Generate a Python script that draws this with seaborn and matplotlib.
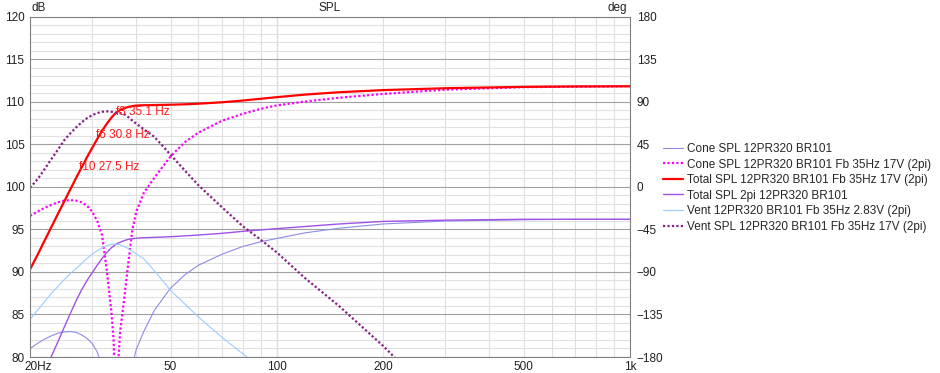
import numpy as np
import pandas as pd
import matplotlib
matplotlib.use("Agg")
import matplotlib.pyplot as plt
import matplotlib.transforms as mtransforms
import seaborn as sns

# frequency points (Hz) shared by every curve
freq = [20, 21, 22, 23, 24, 25, 26, 27, 28, 29, 30, 31, 32, 33, 34, 34.5, 35, 35.5,
        36, 37, 38, 39, 40, 42, 45, 50, 55, 60, 70, 80, 90, 100, 120, 150, 200, 300,
        500, 700, 1000]

nan = np.nan
cone_283 = [81.0, 81.6, 82.1, 82.5, 82.8, 82.95, 83.0, 82.9, 82.6, 82.2, 81.6, 80.6, 78.9,
            75.5, 70.0, 66.0, 58.0, 63.0, 67.0, 72.0, 76.0, 79.2, 80.9, 83.0, 85.5, 88.1,
            89.7, 90.8, 92.1, 93.0, 93.55, 93.95, 94.6, 95.15, 95.65, 96.0, 96.15, 96.2, 96.2]
cone_17v = [96.6, 97.1, 97.55, 97.9, 98.2, 98.4, 98.45, 98.4, 98.2, 97.8, 97.1, 96.0, 94.3,
            90.2, 85.3, 82.0, 72.0, 79.0, 83.0, 87.0, 91.2, 95.0, 97.1, 99.3, 101.1, 103.6,
            105.3, 106.4, 107.8, 108.6, 109.2, 109.6, 110.05, 110.5, 110.95, 111.45, 111.75,
            111.8, 111.85]
total_17v = [90.3, 92.0, 93.7, 95.3, 96.85, 98.3, 99.7, 101.05, 102.3, 103.5, 104.6, 105.65,
             106.6, 107.45, 108.15, 108.45, 108.7, 108.9, 109.05, 109.28, 109.42, 109.52,
             109.58, 109.62, 109.64, 109.68, 109.73, 109.8, 109.97, 110.17, 110.38, 110.57,
             110.87, 111.15, 111.4, 111.62, 111.78, 111.83, 111.85]
total_2pi = [74.4, 76.4, 78.3, 80.1, 81.8, 83.5, 85.1, 86.6, 87.9, 89.0, 89.9, 90.8, 91.6,
             92.3, 92.85, 93.05, 93.25, 93.4, 93.5, 93.7, 93.85, 93.92, 93.97, 94.03, 94.08,
             94.15, 94.25, 94.35, 94.55, 94.78, 94.95, 95.1, 95.35, 95.65, 95.95, 96.1, 96.2,
             96.2, 96.2]
vent_283 = [84.4, 85.5, 86.5, 87.5, 88.3, 89.1, 89.8, 90.4, 91.0, 91.6, 92.1, 92.5, 92.85,
            93.1, 93.25, 93.27, 93.27, 93.25, 93.2, 93.0, 92.75, 92.45, 92.1, 91.55, 90.15,
            87.85, 86.2, 84.7, 82.3, 80.4, 78.75, 77.3, nan, nan, nan, nan, nan, nan, nan]
vent_17v = [99.9, 100.9, 102.1, 103.3, 104.4, 105.5, 106.3, 107.0, 107.6, 108.1, 108.45,
            108.7, 108.85, 108.9, 108.85, 108.8, 108.75, 108.72, 108.7, 108.55, 108.2, 107.8,
            107.45, 106.8, 105.9, 103.8, 101.9, 100.2, 97.6, 95.4, 93.8, 92.3, 89.3, 86.0,
            81.3, 74.0, nan, nan, nan]

series_names = ["Cone SPL 12PR320 BR101",
                "Cone SPL 12PR320 BR101 Fb 35Hz 17V (2pi)",
                "Total SPL 12PR320 BR101 Fb 35Hz 17V (2pi)",
                "Total SPL 2pi 12PR320 BR101",
                "Vent 12PR320 BR101 Fb 35Hz 2.83V (2pi)",
                "Vent SPL 12PR320 BR101 Fb 35Hz 17V (2pi)"]
series_values = [cone_283, cone_17v, total_17v, total_2pi, vent_283, vent_17v]

# -3/-6/-10 dB markers of the total response
f_labels = ["f3 35.1 Hz", "f6 30.8 Hz", "f10 27.5 Hz"]
f_freq = [35.1, 30.8, 27.5]
f_level = [108.8, 106.1, 102.4]

y_ticks = [80, 85, 90, 95, 100, 105, 110, 115, 120]
x_ticks = [20, 50, 100, 200, 500, 1000]
x_ticklabels = ["20Hz", "50", "100", "200", "500", "1k"]
deg_ticks = [-180, -135, -90, -45, 0, 45, 90, 135, 180]

colors = dict(zip(series_names, ["#8c8ce8", "#ff00ff", "#ff0000", "#a052e6", "#99ccff", "#882288"]))
widths = dict(zip(series_names, [0.8, 1.6, 1.6, 1.0, 0.8, 1.6]))
dashes = dict(zip(series_names, ["", (1, 1), "", "", "", (1, 1)]))

df = pd.DataFrame({
    "freq": np.tile(freq, len(series_names)),
    "spl": np.concatenate(series_values),
    "series": np.repeat(series_names, len(freq)),
})

sns.set_style("white")
plt.rcParams["font.family"] = ["Liberation Sans", "DejaVu Sans"]
plt.rcParams["font.size"] = 8.5

fig = plt.figure(figsize=(9.4, 3.73), dpi=100)
ax = fig.add_axes([30 / 940, 1 - 357 / 373, 600 / 940, 340 / 373])

sns.lineplot(data=df, x="freq", y="spl", hue="series", style="series", size="series",
             hue_order=series_names, style_order=series_names, size_order=series_names,
             palette=colors, dashes=dashes, sizes=widths, sort=False, legend=False, ax=ax)
handles = list(ax.get_lines())

ax.set_xscale("log")
ax.set_xlim(20, 1000)
ax.set_ylim(80, 120)
ax.set_xticks(x_ticks)
ax.set_xticklabels(x_ticklabels)
ax.xaxis.set_minor_locator(matplotlib.ticker.FixedLocator([30, 40, 60, 70, 80, 90, 300, 400, 600, 700, 800, 900]))
ax.xaxis.set_minor_formatter(matplotlib.ticker.NullFormatter())
ax.set_yticks(y_ticks)
ax.yaxis.set_minor_locator(matplotlib.ticker.MultipleLocator(1))
ax.set_xlabel("")
ax.set_ylabel("")
ax.set_axisbelow(True)
ax.grid(which="minor", axis="both", color="#e0e0e0", linewidth=0.8)
ax.grid(which="major", axis="y", color="#a0a0a0", linewidth=0.8)
ax.grid(which="major", axis="x", color="#e0e0e0", linewidth=0.8)
ax.axvline(100, color="#909090", linewidth=0.8, zorder=0.5)
ax.tick_params(axis="both", which="both", length=0, labelsize=8.5, colors="#202020")
ax.tick_params(axis="y", pad=4)
ax.tick_params(axis="x", pad=3)
for sp in ax.spines.values():
    sp.set_color("#808080")
    sp.set_linewidth(0.8)

# shift "20Hz" so its number sits on the tick
lbl = ax.get_xticklabels()[0]
lbl.set_horizontalalignment("left")
lbl.set_transform(lbl.get_transform() + mtransforms.ScaledTranslation(-6 / 100, 0, fig.dpi_scale_trans))

ax2 = ax.twinx()
ax2.set_ylim(-180, 180)
ax2.set_yticks(deg_ticks)
ax2.tick_params(axis="y", length=0, labelsize=8.5, colors="#202020", pad=5)
for sp in ax2.spines.values():
    sp.set_visible(False)

for txt, f, lev in zip(f_labels, f_freq, f_level):
    ax.text(f, lev, txt, color="#ff1a1a", fontsize=8.5, ha="left", va="center")

fig.text(32 / 940, 1 - 8 / 373, "dB", fontsize=8.5, ha="left", va="center", color="#202020")
fig.text(330 / 940, 1 - 8 / 373, "SPL", fontsize=8.5, ha="center", va="center", color="#202020")
fig.text(627 / 940, 1 - 8 / 373, "deg", fontsize=8.5, ha="right", va="center", color="#202020")

fig.legend(handles, series_names, loc="upper left", bbox_to_anchor=(663 / 940, 1 - 143 / 373),
           frameon=False, borderpad=0, borderaxespad=0, handlelength=1.7, handletextpad=0.3,
           labelspacing=0.3, fontsize=8.5)

fig.savefig("out.png", dpi=100, facecolor="white")
